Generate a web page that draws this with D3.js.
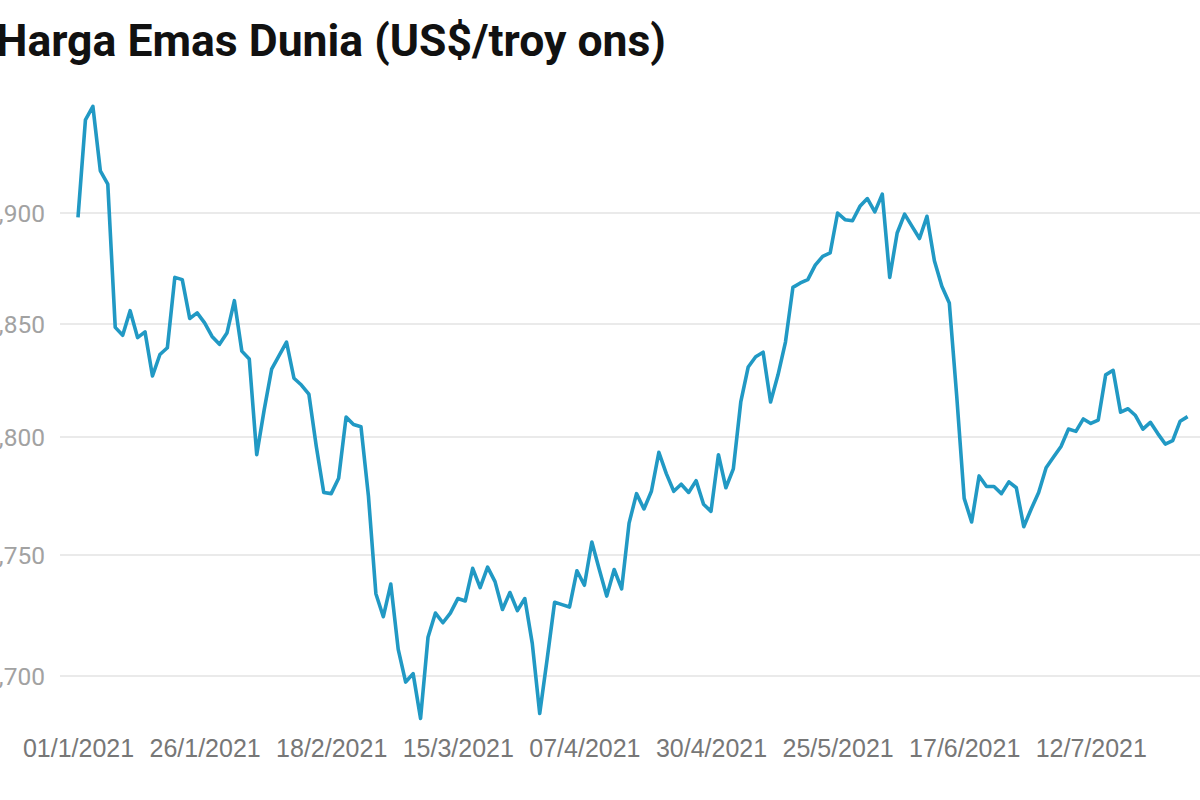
<!DOCTYPE html>
<meta charset="utf-8">
<style>
    body { margin: 0; background: #fff; }
    svg { display: block; font-family: Roboto, "Noto Sans", sans-serif; }
    .grid line { stroke: #e3e3e3; stroke-width: 1.5; }
    .ylab { fill: #a2a2a2; font-size: 24.5px; }
    .xaxis text { fill: #777; font-size: 25px; }
    .price { fill: none; stroke: #2199c4; stroke-width: 3.6; stroke-linejoin: round; }
</style>
<body>
<script src="https://d3js.org/d3.v7.min.js"></script>
<script>
    // trading days (weekdays) from 1 Jan to 29 Jul 2021
    const dates = [
        "01/1/2021","04/1/2021","05/1/2021","06/1/2021","07/1/2021","08/1/2021","11/1/2021","12/1/2021","13/1/2021","14/1/2021",
        "15/1/2021","18/1/2021","19/1/2021","20/1/2021","21/1/2021","22/1/2021","25/1/2021","26/1/2021","27/1/2021","28/1/2021",
        "29/1/2021","01/2/2021","02/2/2021","03/2/2021","04/2/2021","05/2/2021","08/2/2021","09/2/2021","10/2/2021","11/2/2021",
        "12/2/2021","15/2/2021","16/2/2021","17/2/2021","18/2/2021","19/2/2021","22/2/2021","23/2/2021","24/2/2021","25/2/2021",
        "26/2/2021","01/3/2021","02/3/2021","03/3/2021","04/3/2021","05/3/2021","08/3/2021","09/3/2021","10/3/2021","11/3/2021",
        "12/3/2021","15/3/2021","16/3/2021","17/3/2021","18/3/2021","19/3/2021","22/3/2021","23/3/2021","24/3/2021","25/3/2021",
        "26/3/2021","29/3/2021","30/3/2021","31/3/2021","01/4/2021","02/4/2021","05/4/2021","06/4/2021","07/4/2021","08/4/2021",
        "09/4/2021","12/4/2021","13/4/2021","14/4/2021","15/4/2021","16/4/2021","19/4/2021","20/4/2021","21/4/2021","22/4/2021",
        "23/4/2021","26/4/2021","27/4/2021","28/4/2021","29/4/2021","30/4/2021","03/5/2021","04/5/2021","05/5/2021","06/5/2021",
        "07/5/2021","10/5/2021","11/5/2021","12/5/2021","13/5/2021","14/5/2021","17/5/2021","18/5/2021","19/5/2021","20/5/2021",
        "21/5/2021","24/5/2021","25/5/2021","26/5/2021","27/5/2021","28/5/2021","31/5/2021","01/6/2021","02/6/2021","03/6/2021",
        "04/6/2021","07/6/2021","08/6/2021","09/6/2021","10/6/2021","11/6/2021","14/6/2021","15/6/2021","16/6/2021","17/6/2021",
        "18/6/2021","21/6/2021","22/6/2021","23/6/2021","24/6/2021","25/6/2021","28/6/2021","29/6/2021","30/6/2021","01/7/2021",
        "02/7/2021","05/7/2021","06/7/2021","07/7/2021","08/7/2021","09/7/2021","12/7/2021","13/7/2021","14/7/2021","15/7/2021",
        "16/7/2021","19/7/2021","20/7/2021","21/7/2021","22/7/2021","23/7/2021","26/7/2021","27/7/2021","28/7/2021","29/7/2021"
    ];

    // gold price, US$ per troy ounce
    const prices = [
        1898, 1942, 1948, 1919, 1913, 1848.5, 1845, 1856, 1844, 1846.5,
        1827, 1836.5, 1839.5, 1871, 1870, 1852.5, 1855, 1850.5, 1844.5, 1841,
        1846, 1860.5, 1838, 1834.5, 1792.5, 1812, 1830, 1836, 1842, 1826,
        1823, 1819, 1796, 1776.5, 1776, 1782.5, 1808.8, 1805.5, 1804.5, 1775,
        1734, 1724.5, 1738, 1711, 1697.5, 1701, 1682.5, 1716, 1726, 1722,
        1726, 1732, 1731, 1744.5, 1736.5, 1745, 1739, 1727.5, 1734.5, 1727,
        1732, 1713.5, 1684.5, 1707, 1730.5, 1729.5, 1728.5, 1743.5, 1737.5, 1755.5,
        1744, 1733, 1744, 1736, 1763.5, 1776, 1769.5, 1777, 1793.5, 1784.5,
        1777, 1780, 1776.5, 1781.5, 1771.5, 1768.5, 1792.5, 1778.5, 1786.5, 1815.5,
        1831, 1835.5, 1837.5, 1815.5, 1827.5, 1842, 1866.5, 1868.5, 1870, 1876.5,
        1880.5, 1882, 1900, 1897, 1896.5, 1903, 1906.5, 1900.5, 1908.5, 1871,
        1891, 1899.5, 1894, 1888.5, 1898.5, 1878.5, 1867, 1859.5, 1818, 1774,
        1764, 1783.5, 1779, 1779, 1776, 1781, 1778.5, 1762, 1769.5, 1776.5,
        1787, 1791.5, 1796, 1803.5, 1802.5, 1808, 1806, 1807.5, 1827.5, 1829.5,
        1811, 1812.5, 1809.5, 1803.5, 1806.5, 1801.5, 1797, 1798.5, 1807, 1809
    ];

    const yTicks = [1700, 1750, 1800, 1850, 1900];
    const xTicks = ["01/1/2021", "26/1/2021", "18/2/2021", "15/3/2021", "07/4/2021",
                    "30/4/2021", "25/5/2021", "17/6/2021", "12/7/2021"];

    const width = 1200, height = 800;

    const svg = d3.select("body").append("svg")
        .attr("width", width)
        .attr("height", height);

    let x = d3.scalePoint().domain(dates).range([78, 1187.6]);
    // gridlines in the original are not evenly spaced, so use a piecewise scale
    let y = d3.scaleLinear().domain(yTicks).range([676, 555, 437, 324, 213]);

    // title (left edge cropped like the original)
    svg.append("text")
        .attr("x", -4)
        .attr("y", 56)
        .attr("font-size", 44.5)
        .attr("font-weight", 700)
        .attr("fill", "#111")
        .text("Harga Emas Dunia (US$/troy ons)");

    // horizontal gridlines + y labels
    const grid = svg.append("g").attr("class", "grid");
    grid.selectAll("line")
        .data(yTicks)
      .enter().append("line")
        .attr("x1", 60).attr("x2", width)
        .attr("y1", d => y(d)).attr("y2", d => y(d));

    svg.selectAll(".ylab")
        .data(yTicks)
      .enter().append("text")
        .attr("class", "ylab")
        .attr("x", 45)
        .attr("y", d => y(d))
        .attr("dy", "0.35em")
        .attr("text-anchor", "end")
        .text(d => d3.format(",")(d));

    // x axis labels only
    const xa = svg.append("g")
        .attr("class", "xaxis")
        .attr("transform", "translate(0,720)")
        .call(d3.axisBottom(x).tickValues(xTicks).tickSize(0).tickPadding(19));
    xa.select(".domain").remove();
    xa.selectAll("text").attr("font-family", null).attr("font-size", null);

    // the line
    const line = d3.line()
        .x((d, i) => x(dates[i]))
        .y(d => y(d));

    svg.append("path")
        .datum(prices)
        .attr("class", "price")
        .attr("d", line);
</script>
</body>
